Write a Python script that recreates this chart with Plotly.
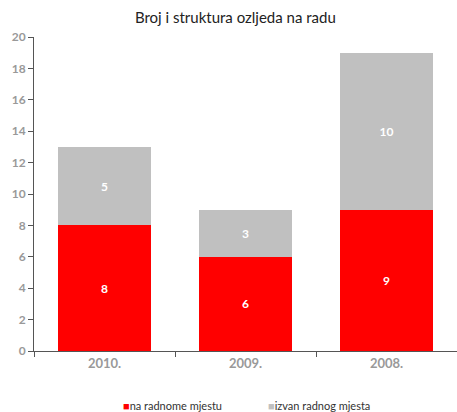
import plotly.graph_objects as go

categories = ["2010.", "2009.", "2008."]
na_radnome = [8, 6, 9]
izvan_radnog = [5, 3, 10]
y_ticks = [0, 2, 4, 6, 8, 10, 12, 14, 16, 18, 20]
series_names = ["na radnome mjestu", "izvan radnog mjesta"]
series_colors = ["#ff0000", "#c0c0c0"]

fig = go.Figure()
for vals, name, col in zip([na_radnome, izvan_radnog], series_names, series_colors):
    fig.add_trace(go.Bar(
        x=categories, y=vals, name=name,
        marker=dict(color=col, line=dict(width=0)),
        text=vals, textposition="inside", insidetextanchor="middle",
        textfont=dict(color="white", size=12, family="Lato", weight="bold"),
        showlegend=False,
    ))

# legend drawn as text entries with coloured square glyphs
legend_x = [0.205, 0.548]
for name, col, lx in zip(series_names, series_colors, legend_x):
    fig.add_annotation(
        xref="paper", yref="paper", x=lx, y=-0.172, xanchor="left", yanchor="middle",
        text=f"<span style='color:{col}'>■</span>{name}", showarrow=False,
        font=dict(family="Lato", size=11, color="#333333"),
    )

fig.update_layout(
    barmode="stack",
    bargap=0.335,
    width=457, height=412,
    margin=dict(l=34, r=0, t=37, b=61, autoexpand=False),
    paper_bgcolor="white", plot_bgcolor="white",
    title=dict(text="Broj i struktura ozljeda na radu", x=0.515, xanchor="center",
               y=0.956, yanchor="middle",
               font=dict(family="Lato", size=15, color="#222222")),
    showlegend=False,
    uniformtext=dict(mode="show", minsize=10),
)
fig.update_xaxes(
    showline=True, linecolor="#555555", linewidth=1,
    ticks="outside", tickson="boundaries", ticklen=5, tickcolor="#555555",
    tickfont=dict(family="Lato", size=13, color="#999999", weight="bold"),
    showgrid=False, automargin=False,
)
fig.update_yaxes(
    range=[0, 20], tickvals=y_ticks,
    showline=True, linecolor="#555555", linewidth=1,
    ticks="outside", ticklen=5, tickcolor="#555555",
    tickfont=dict(family="Lato", size=12, color="#999999", weight="bold"),
    showgrid=False, zeroline=False, automargin=False,
)

fig.write_html("out.html", config={"displayModeBar": False},
               post_script="document.body.style.margin='0';")
